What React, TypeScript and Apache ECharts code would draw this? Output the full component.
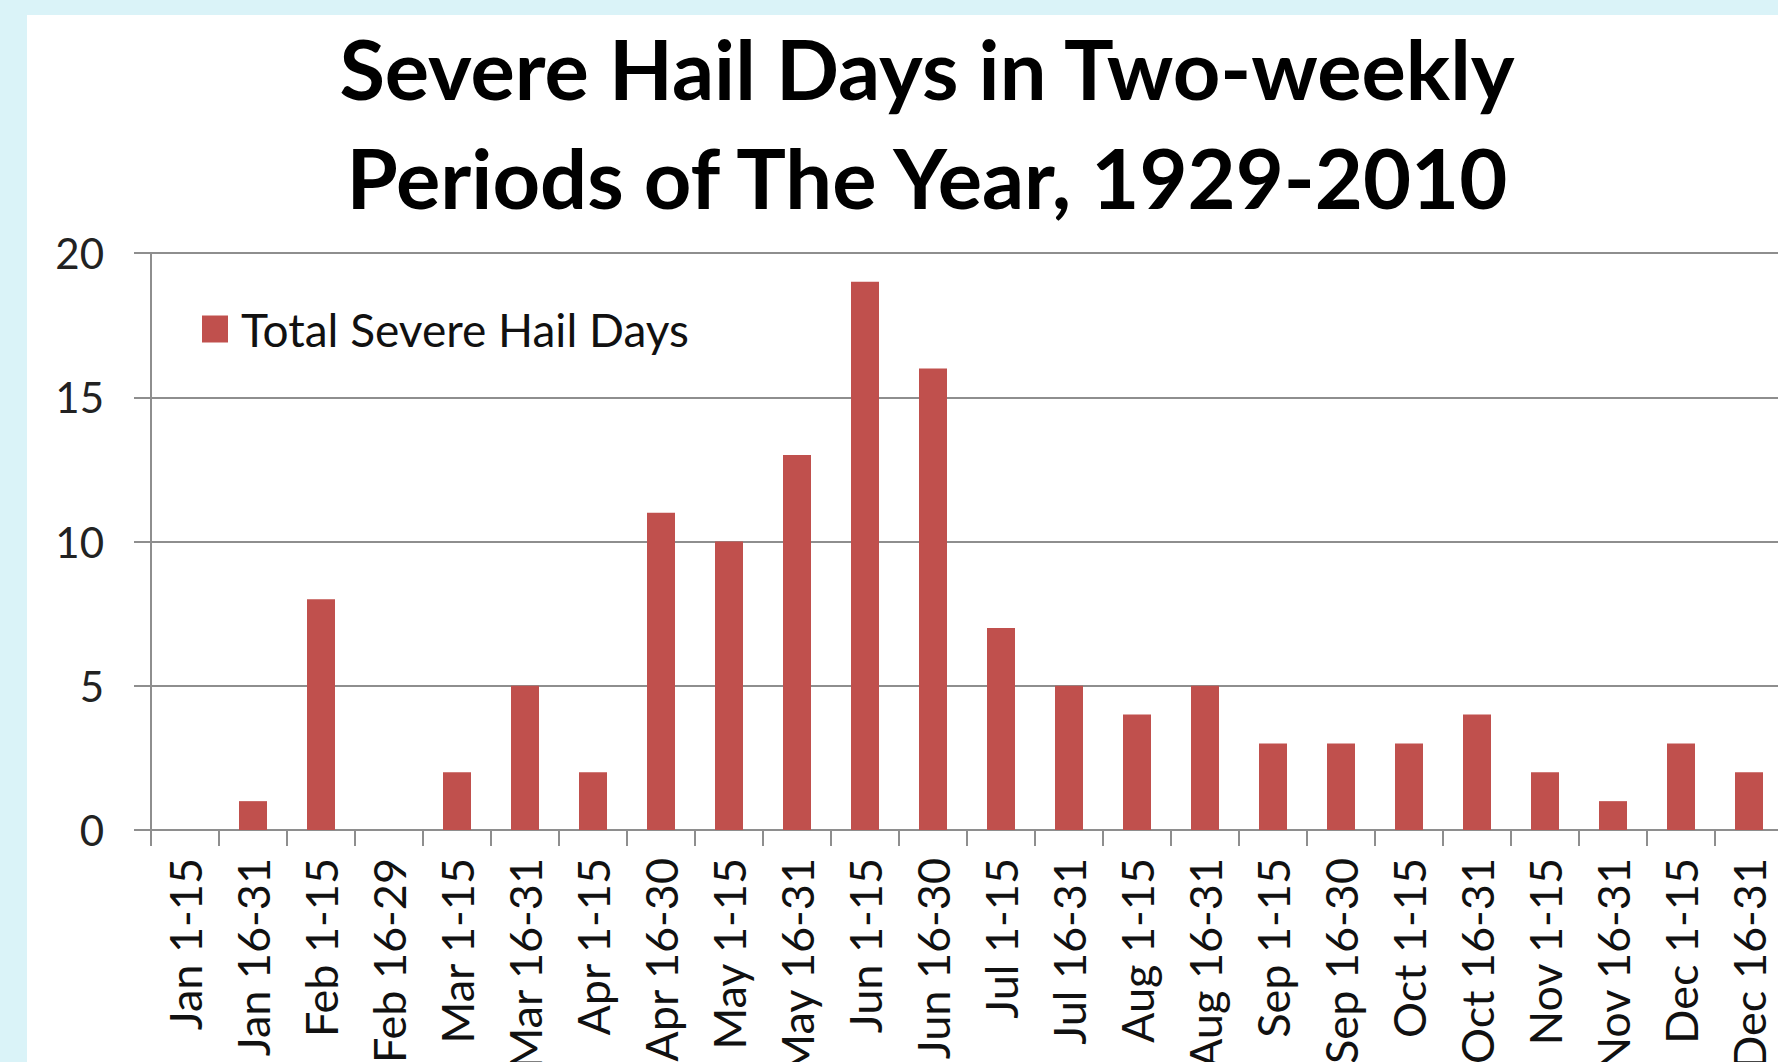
import React, { useEffect, useRef } from "react";
import * as echarts from "echarts";

const categories = [
  "Jan 1-15", "Jan 16-31", "Feb 1-15", "Feb 16-29", "Mar 1-15", "Mar 16-31",
  "Apr 1-15", "Apr 16-30", "May 1-15", "May 16-31", "Jun 1-15", "Jun 16-30",
  "Jul 1-15", "Jul 16-31", "Aug 1-15", "Aug 16-31", "Sep 1-15", "Sep 16-30",
  "Oct 1-15", "Oct 16-31", "Nov 1-15", "Nov 16-31", "Dec 1-15", "Dec 16-31",
];
const hailDays = [0, 1, 8, 0, 2, 5, 2, 11, 10, 13, 19, 16, 7, 5, 4, 5, 3, 3, 3, 4, 2, 1, 3, 2];
const seriesName = "Total Severe Hail Days";
const titleLines = ["Severe Hail Days in Two-weekly", "Periods of The Year, 1929-2010"];
const yMin = 0;
const yMax = 20;
const yStep = 5;

const FONT = "Lato, 'Open Sans', sans-serif";
const GRAY = "#8e8e8e";

export default function App() {
  const ref = useRef<HTMLDivElement>(null);
  useEffect(() => {
    document.body.style.margin = "0";
    const chart = echarts.init(ref.current!, null, { renderer: "svg" });
    chart.setOption({
      animation: false,
      backgroundColor: "transparent",
      title: {
        text: titleLines.join("\n"),
        left: 922,
        top: 8,
        textAlign: "center",
        textStyle: {
          fontFamily: FONT,
          fontWeight: "bold",
          fontSize: 83,
          lineHeight: 109,
          color: "#000",
        },
      },
      legend: {
        data: [seriesName],
        left: 197,
        top: 301,
        icon: "rect",
        itemWidth: 26,
        itemHeight: 27,
        textStyle: {
          fontFamily: FONT,
          fontSize: 46,
          color: "#111",
          padding: [0, 0, 0, 8],
        },
      },
      grid: {
        left: 151,
        top: 253,
        width: 1632,
        bottom: 232,
        containLabel: false,
        outerBoundsMode: "none",
      },
      xAxis: {
        type: "category",
        data: categories,
        boundaryGap: true,
        axisLine: { show: true, lineStyle: { color: GRAY, width: 2 } },
        axisTick: { show: true, alignWithLabel: false, length: 16, lineStyle: { color: GRAY, width: 2 } },
        axisLabel: {
          rotate: 90,
          interval: 0,
          margin: 28,
          fontFamily: FONT,
          fontSize: 45,
          color: "#111",
        },
      },
      yAxis: {
        type: "value",
        min: yMin,
        max: yMax,
        interval: yStep,
        axisLine: { show: true, lineStyle: { color: GRAY, width: 2 } },
        axisTick: { show: true, length: 17, lineStyle: { color: GRAY, width: 2 } },
        splitLine: { show: true, lineStyle: { color: GRAY, width: 2 } },
        axisLabel: {
          margin: 47,
          fontFamily: FONT,
          fontSize: 42,
          color: "#222",
        },
      },
      series: [
        {
          name: seriesName,
          type: "bar",
          data: hailDays,
          barWidth: 28,
          itemStyle: { color: "#C0504D" },
        },
      ],
    });
    return () => chart.dispose();
  }, []);
  return (
    <div style={{ position: "relative", width: 1778, height: 1062, background: "#daf3f8", overflow: "hidden" }}>
      <div style={{ position: "absolute", left: 27, top: 15, right: 0, bottom: 0, background: "#ffffff" }} />
      <div ref={ref} style={{ position: "absolute", left: 0, top: 0, width: 1778, height: 1062 }} />
    </div>
  );
}
